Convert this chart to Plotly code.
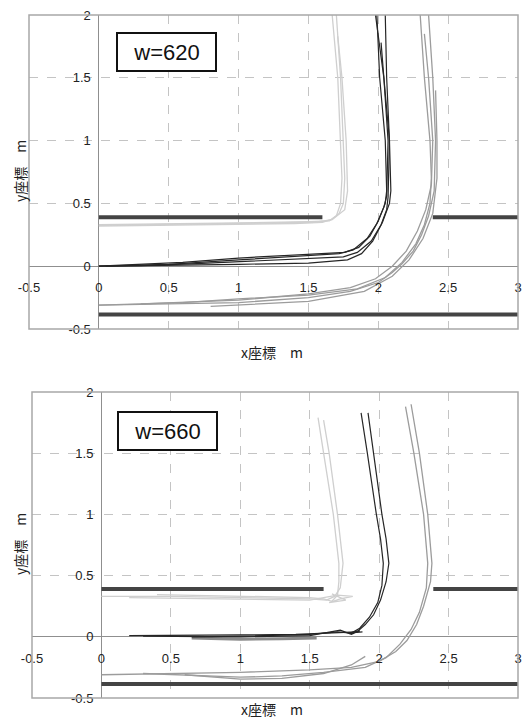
import plotly.graph_objects as go

W, H = 523, 720

# ---------------- shared axis settings ----------------
X_TICKS = [-0.5, 0, 0.5, 1, 1.5, 2, 2.5, 3]
X_TICK_TEXT = ["-0.5", "0", "0.5", "1", "1.5", "2", "2.5", "3"]
Y_TICKS = [-0.5, 0, 0.5, 1, 1.5, 2]
Y_TICK_TEXT = ["-0.5", "0", "0.5", "1", "1.5", "2"]
X_RANGE = [-0.5, 3.0]
Y_RANGE = [-0.5, 2.0]

# corridor walls (same layout in both panels)
WALL_UPPER_LEFT_X = [0.0, 1.60]
WALL_UPPER_RIGHT_X = [2.39, 3.0]
WALL_LOWER_X = [0.0, 3.0]
WALL_UPPER_Y = 0.39
WALL_LOWER_Y = -0.385

# ---------------- panel w=620: trajectories ----------------
W620_INNER = [  # light grey, inner lane
    ([0, 0.5, 1.0, 1.4, 1.6, 1.66, 1.72, 1.75, 1.76, 1.75, 1.73, 1.70],
     [0.32, 0.325, 0.33, 0.34, 0.35, 0.37, 0.42, 0.50, 0.70, 1.0, 1.5, 2.0]),
    ([0, 0.5, 1.0, 1.5, 1.65, 1.70, 1.73, 1.74, 1.73, 1.71, 1.67],
     [0.33, 0.335, 0.345, 0.355, 0.36, 0.40, 0.50, 0.70, 1.0, 1.5, 2.0]),
    ([0, 1.0, 1.55, 1.67, 1.76, 1.78, 1.77, 1.74, 1.71],
     [0.325, 0.34, 0.35, 0.37, 0.45, 0.60, 1.0, 1.5, 1.83]),
]
W620_MIDDLE = [  # black, middle lane
    ([0, 0.3, 0.7, 1.0, 1.5, 1.75, 1.85, 1.95, 2.02, 2.06, 2.07, 2.08, 2.06, 2.05],
     [0, 0.005, 0.02, 0.035, 0.06, 0.075, 0.11, 0.20, 0.33, 0.45, 0.55, 1.0, 1.5, 2.0]),
    ([0, 0.5, 1.0, 1.5, 1.72, 1.82, 1.92, 1.99, 2.04, 2.06, 2.07, 2.04, 2.02],
     [0, 0.015, 0.05, 0.085, 0.10, 0.13, 0.22, 0.34, 0.47, 0.56, 1.0, 1.5, 1.78]),
    ([0.05, 0.5, 1.0, 1.5, 1.78, 1.88, 1.96, 2.03, 2.08, 2.09, 2.08, 2.04, 1.98],
     [0, 0.005, 0.015, 0.025, 0.05, 0.10, 0.20, 0.35, 0.50, 0.60, 1.0, 1.5, 2.0]),
    ([0, 0.6, 1.0, 1.5, 1.76, 1.86, 1.94, 2.0, 2.05, 2.06, 2.05, 2.01, 1.99],
     [0, 0.03, 0.065, 0.095, 0.11, 0.15, 0.24, 0.36, 0.50, 0.60, 1.0, 1.5, 2.0]),
]
W620_OUTER = [  # mid grey, outer lane
    ([0, 0.5, 1.0, 1.5, 1.8, 2.0, 2.1, 2.17, 2.25, 2.31, 2.36, 2.40, 2.41, 2.39, 2.36],
     [-0.31, -0.30, -0.29, -0.25, -0.20, -0.13, -0.05, 0.02, 0.12, 0.25, 0.40, 0.60, 1.0, 1.5, 2.0]),
    ([0.3, 1.0, 1.5, 1.8, 1.98, 2.1, 2.2, 2.28, 2.34, 2.38, 2.39, 2.36, 2.33],
     [-0.30, -0.27, -0.22, -0.17, -0.10, 0.0, 0.12, 0.28, 0.45, 0.65, 1.0, 1.5, 1.85]),
    ([0, 0.6, 1.0, 1.5, 1.85, 2.05, 2.17, 2.27, 2.33, 2.37, 2.38, 2.37, 2.33, 2.30],
     [-0.31, -0.29, -0.26, -0.23, -0.18, -0.09, 0.03, 0.18, 0.33, 0.50, 0.70, 1.0, 1.5, 2.0]),
    ([0.8, 1.5, 1.9, 2.1, 2.22, 2.32, 2.39, 2.42, 2.42, 2.41],
     [-0.32, -0.28, -0.20, -0.08, 0.05, 0.22, 0.42, 0.70, 1.0, 1.4]),
]

# ---------------- panel w=660: trajectories ----------------
W660_INNER = [
    ([0, 0.5, 1.0, 1.5, 1.62, 1.68, 1.72, 1.74, 1.72, 1.70, 1.64, 1.60],
     [0.33, 0.33, 0.32, 0.31, 0.30, 0.33, 0.40, 0.60, 0.80, 1.0, 1.5, 1.77]),
    ([0.4, 1.0, 1.5, 1.6, 1.66, 1.70, 1.71, 1.71, 1.69, 1.67, 1.60, 1.56],
     [0.345, 0.33, 0.32, 0.31, 0.29, 0.34, 0.45, 0.60, 0.80, 1.0, 1.5, 1.79]),
    ([0.2, 1.0, 1.5, 1.60, 1.70, 1.81, 1.72, 1.64, 1.76, 1.66],
     [0.32, 0.31, 0.30, 0.32, 0.34, 0.33, 0.31, 0.28, 0.30, 0.35]),
]
W660_MIDDLE = [
    ([0.2, 0.6, 1.0, 1.4, 1.6, 1.75, 1.84, 1.90, 1.96, 2.01, 2.05, 2.07, 2.05, 2.02, 1.96, 1.92],
     [0.01, 0.01, 0.015, 0.02, 0.03, 0.035, 0.04, 0.10, 0.18, 0.30, 0.45, 0.60, 0.80, 1.0, 1.5, 1.83]),
    ([0.65, 1.0, 1.5, 1.70, 1.80, 1.86, 1.93, 1.99, 2.02, 2.03, 2.01, 1.98, 1.915, 1.87],
     [0.0, 0.005, 0.02, 0.04, 0.03, 0.07, 0.16, 0.28, 0.42, 0.60, 0.80, 1.0, 1.5, 1.83]),
    ([0.3, 1.0, 1.5, 1.65, 1.72, 1.80, 1.86, 1.78, 1.88],
     [0.005, 0.0, 0.01, 0.04, 0.055, 0.02, 0.05, 0.03, 0.04]),
]
W660_MIDDLE_GREY = [
    ([0.65, 1.0, 1.3, 1.55], [-0.01, -0.02, -0.015, -0.01]),
]
W660_OUTER = [
    ([0, 0.5, 1.0, 1.5, 1.8, 2.0, 2.12, 2.2, 2.27, 2.32, 2.37, 2.38, 2.35, 2.29, 2.23],
     [-0.31, -0.30, -0.29, -0.27, -0.25, -0.20, -0.12, -0.03, 0.10, 0.25, 0.45, 0.60, 1.0, 1.5, 1.90]),
    ([0.3, 0.8, 1.0, 1.3, 1.6, 1.9, 2.05, 2.15, 2.23, 2.29, 2.34, 2.35, 2.32, 2.25, 2.19],
     [-0.30, -0.32, -0.33, -0.32, -0.29, -0.25, -0.17, -0.06, 0.06, 0.20, 0.40, 0.60, 1.0, 1.5, 1.88]),
    ([0.6, 1.0, 1.3, 1.6, 1.8, 1.90],
     [-0.31, -0.345, -0.34, -0.30, -0.23, -0.16]),
]

COL_INNER = "#cfcfcf"
COL_MIDDLE = "#262626"
COL_OUTER = "#9c9c9c"
COL_WALL = "#444444"

FONT = "Liberation Sans, Arial, Noto Sans CJK JP, sans-serif"
CJK = "Noto Sans CJK JP, sans-serif"

# panel geometry in pixels: (left, right, top, bottom)
PANELS = [
    dict(label="w=620", px=(29, 518, 15, 329), xa="x", ya="y",
         groups=[(W620_INNER, COL_INNER, 1.3), (W620_MIDDLE, COL_MIDDLE, 1.2),
                 (W620_OUTER, COL_OUTER, 1.3)],
         box=(166, 52), xtitle_y=352),
    dict(label="w=660", px=(32, 518, 392, 698), xa="x2", ya="y2",
         groups=[(W660_INNER, COL_INNER, 1.3), (W660_MIDDLE_GREY, "#8a8a8a", 3.0),
                 (W660_MIDDLE, COL_MIDDLE, 1.2), (W660_OUTER, COL_OUTER, 1.3)],
         box=(167, 431), xtitle_y=709),
]

fig = go.Figure()
annotations = []
shapes = []

for i, p in enumerate(PANELS):
    left, right, top, bottom = p["px"]
    xa, ya = p["xa"], p["ya"]
    # walls
    for wx, wy in [(WALL_UPPER_LEFT_X, WALL_UPPER_Y),
                   (WALL_UPPER_RIGHT_X, WALL_UPPER_Y),
                   (WALL_LOWER_X, WALL_LOWER_Y)]:
        fig.add_trace(go.Scatter(x=wx, y=[wy] * len(wx), mode="lines",
                                 line=dict(color=COL_WALL, width=4),
                                 xaxis=xa, yaxis=ya, hoverinfo="skip"))
    # trajectories
    for traces, col, lw in p["groups"]:
        for xs, ys in traces:
            fig.add_trace(go.Scatter(x=xs, y=ys, mode="lines",
                                     line=dict(color=col, width=lw),
                                     xaxis=xa, yaxis=ya, hoverinfo="skip"))

    xdom = [left / W, right / W]
    ydom = [1 - bottom / H, 1 - top / H]
    # axes cross at the origin
    x0_frac = xdom[0] + (0 - X_RANGE[0]) / (X_RANGE[1] - X_RANGE[0]) * (xdom[1] - xdom[0])
    y0_frac = ydom[0] + (0 - Y_RANGE[0]) / (Y_RANGE[1] - Y_RANGE[0]) * (ydom[1] - ydom[0])
    xkey = "xaxis" if i == 0 else "xaxis2"
    ykey = "yaxis" if i == 0 else "yaxis2"
    fig.update_layout(**{
        xkey: dict(domain=xdom, range=X_RANGE, anchor="free", position=y0_frac,
                   tickvals=X_TICKS, ticktext=X_TICK_TEXT, showgrid=True,
                   gridcolor="#c4c4c4", griddash="dash", gridwidth=1,
                   zeroline=True, zerolinecolor="#8f8f8f", zerolinewidth=1.3,
                   showline=False, ticks="", ticklabelstandoff=12,
                   automargin=False,
                   tickfont=dict(family=FONT, size=13, color="#222")),
        ykey: dict(domain=ydom, range=Y_RANGE, anchor="free", position=x0_frac,
                   tickvals=Y_TICKS, ticktext=Y_TICK_TEXT, showgrid=True,
                   gridcolor="#c4c4c4", griddash="dash", gridwidth=1,
                   zeroline=True, zerolinecolor="#8f8f8f", zerolinewidth=1.3,
                   showline=False, ticks="", ticklabelstandoff=8,
                   automargin=False,
                   tickfont=dict(family=FONT, size=13, color="#222")),
    })
    # plot frame
    shapes.append(dict(type="rect", xref=f"{xa} domain", yref=f"{ya} domain",
                       x0=0, x1=1, y0=0, y1=1,
                       line=dict(color="#a8a8a8", width=1.5), layer="above"))
    # label box
    bx, by = p["box"]
    annotations.append(dict(text=p["label"], x=bx / W, y=1 - by / H, xref="paper",
                            yref="paper", showarrow=False, xanchor="center",
                            yanchor="middle", width=95, height=34,
                            bordercolor="#111", borderwidth=2, borderpad=1,
                            bgcolor="white",
                            font=dict(family=FONT, size=22, color="#111")))
    # axis titles
    annotations.append(dict(text="y座標　m", x=20 / W, y=1 - (top + bottom - 2) / 2 / H,
                            xref="paper", yref="paper", showarrow=False,
                            textangle=-90, xanchor="center", yanchor="middle",
                            font=dict(family=CJK, size=14, color="#222")))
    annotations.append(dict(text="x座標　m", x=272 / W, y=1 - p["xtitle_y"] / H,
                            xref="paper", yref="paper", showarrow=False,
                            xanchor="center", yanchor="middle",
                            font=dict(family=CJK, size=14, color="#222")))

fig.update_layout(width=W, height=H,
                  margin=dict(l=0, r=0, t=0, b=0, pad=0, autoexpand=False),
                  paper_bgcolor="white", plot_bgcolor="white", showlegend=False,
                  annotations=annotations, shapes=shapes)

fig.write_html("out.html")
